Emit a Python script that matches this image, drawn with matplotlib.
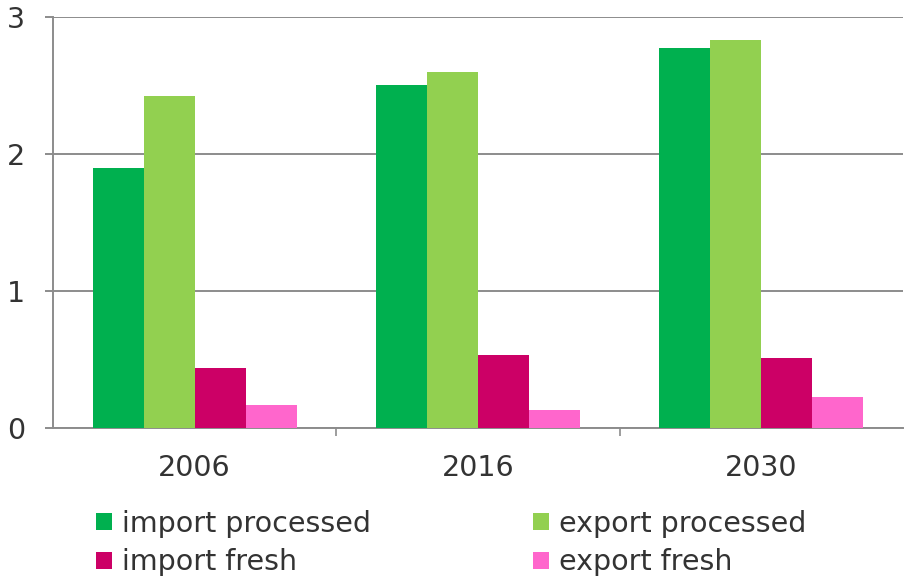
import numpy as np
import matplotlib.pyplot as plt
from matplotlib.patches import Patch

## trade data
years = ['2006', '2016', '2030']
import_processed = [1.90, 2.50, 2.77]
export_processed = [2.42, 2.60, 2.83]
import_fresh = [0.44, 0.53, 0.51]
export_fresh = [0.17, 0.13, 0.23]

series = [import_processed, export_processed, import_fresh, export_fresh]
names = ['import processed', 'export processed', 'import fresh', 'export fresh']
colors = ['#00B04F', '#92D050', '#CC0066', '#FF66CC']

plt.rcParams['font.family'] = 'DejaVu Sans'
fig = plt.figure(figsize=(9.06, 5.80), dpi=100)
ax = fig.add_axes([0.0585, 0.262, 0.938, 0.709])

x = np.arange(len(years))
w = 0.18
for i, (vals, c) in enumerate(zip(series, colors)):
    ax.bar(x + (i - 1.5) * w, vals, width=w, color=c, edgecolor='none', zorder=3)

ax.set_xlim(-0.5, 2.5)
ax.set_ylim(0, 3)
ax.set_yticks([0, 1, 2, 3])
ax.grid(axis='y', color='#8c8c8c', linewidth=1.4, zorder=0)

ax.set_xticks(x)
ax.set_xticklabels(years)
ax.set_xticks([0.5, 1.5], minor=True)
ax.tick_params(axis='x', which='major', length=0, pad=19, labelsize=20.5, labelcolor='#333333')
ax.tick_params(axis='x', which='minor', length=6, width=1.2, color='#8c8c8c', direction='out')
ax.tick_params(axis='y', length=6, width=1.4, color='#8c8c8c', pad=14, labelsize=20.5, labelcolor='#333333')

for s in ['top', 'right']:
    ax.spines[s].set_visible(False)
for s in ['left', 'bottom']:
    ax.spines[s].set_color('#8c8c8c')
    ax.spines[s].set_linewidth(1.4)

## legend: column 1 = import, column 2 = export
order = [0, 2, 1, 3]
handles = [Patch(facecolor=colors[k], edgecolor='none') for k in order]
labels = [names[k] for k in order]
fig.legend(handles, labels, ncol=2, loc='lower left', bbox_to_anchor=(0.078, -0.038),
           frameon=False, fontsize=20.5, labelcolor='#333333',
           handlelength=0.55, handleheight=0.55, handletextpad=0.35,
           columnspacing=5.7, labelspacing=0.38)

fig.savefig('out.png', dpi=100)
